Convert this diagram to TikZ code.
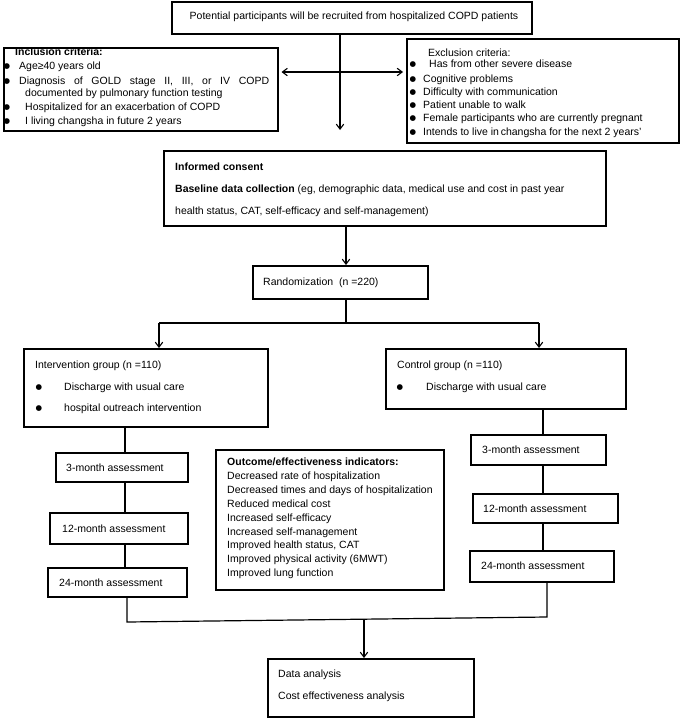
\documentclass[tikz,border=0pt]{standalone}
\usepackage{fontspec}
\setmainfont{Liberation Sans}
\newfontfamily\symf{DejaVu Sans}
\usetikzlibrary{arrows.meta}
\tikzset{
  box/.style={draw, line width=1.5pt, inner sep=0pt, anchor=north west},
  txt/.style={anchor=west, inner sep=0pt, font=\fontsize{10.5}{12}\selectfont, text height=7.5pt, text depth=2.1pt},
  btxt/.style={txt, font=\fontsize{10.5}{12}\selectfont\bfseries},
  ctxt/.style={txt, anchor=center},
  bul/.style={anchor=center, inner sep=0pt, font=\symf\fontsize{7.5}{8}\selectfont},
  conn/.style={line width=1.2pt},
  arr/.style={conn, -{Straight Barb[length=5pt,width=7.5pt,line width=1.1pt]}},
}
\newcommand{\bx}[5]{\node[box, minimum width={(#4-#2)*1pt}, minimum height={(#5-#3)*1pt}] (#1) at (#2,#3) {};}
\begin{document}
\begin{tikzpicture}[x=1pt,y=-1pt]
\useasboundingbox (0,0) rectangle (680,718);
% boxes
\bx{top}{171}{1}{531}{33}
\bx{incl}{3}{47}{277}{130}
\bx{excl}{406}{38}{678}{142}
\bx{inform}{163}{150}{605}{225}
\bx{rand}{252}{265}{427}{298}
\bx{interv}{23}{348}{267}{426}
\bx{ctrl}{385}{348}{625}{408}
\bx{Lthree}{55}{452}{187}{481}
\bx{Ltwelve}{49}{512}{187}{543}
\bx{Lfour}{47}{567}{186}{596}
\bx{Rthree}{470}{434}{605}{464}
\bx{Rtwelve}{472}{493}{617}{522}
\bx{Rfour}{469}{550}{613}{581}
\bx{outc}{215}{449}{443}{589}
\bx{data}{267}{658}{473}{716}
% top text
\node[ctxt] (ttop) at (354,17) {Potential participants will be recruited from hospitalized COPD patients};
% inclusion
\node[btxt] (ti0) at (15,53) {Inclusion criteria:};
\node[bul] (bi1) at (7,67) {●};
\node[bul] (bi2) at (7,82) {●};
\node[bul] (bi3) at (7,108) {●};
\node[bul] (bi4) at (7,122) {●};
\node[txt] (ti1) at (19,67) {Age≥40 years old};
\node[txt] (ti2) at (19,82) {\makebox[250pt][s]{Diagnosis of GOLD stage II, III, or IV COPD}};
\node[txt] (ti3) at (25,94) {documented by pulmonary function testing};
\node[txt] (ti4) at (25,108) {Hospitalized for an exacerbation of COPD};
\node[txt] (ti5) at (25,122) {I living changsha in future 2 years};
% exclusion
\node[txt] (te0) at (428,54) {Exclusion criteria:};
\foreach \yy [count=\i] in {65,80,93,106,119,133} {\node[bul] (be\i) at (413,\yy) {●};}
\node[txt] (te1) at (429,65) {Has from other severe disease};
\node[txt] (te2) at (423,80) {Cognitive problems};
\node[txt] (te3) at (423,93) {Difficulty with communication};
\node[txt] (te4) at (423,106) {Patient unable to walk};
\node[txt] (te5) at (423,119) {Female participants who are currently pregnant};
\node[txt] (te6) at (423,133) {Intends to live in\,changsha for the next 2 years’};
% informed consent
\node[btxt] (tc1) at (175,168) {Informed consent};
\node[txt] (tc2) at (175,190) {\textbf{Baseline data collection} (eg, demographic data, medical use and cost in past year};
\node[txt] (tc3) at (175,212) {health status, CAT, self-efficacy and self-management)};
% randomization
\node[txt] (tr) at (263,283) {Randomization\ \ (n =220)};
% intervention
\node[txt] (tg1) at (35,366) {Intervention group (n =110)};
\node[bul] (bg1) at (39,388) {●};
\node[bul] (bg2) at (39,409) {●};
\node[txt] (tg2) at (64,388) {Discharge with usual care};
\node[txt] (tg3) at (64,409) {hospital outreach intervention};
% control
\node[txt] (tk1) at (397,366) {Control group (n =110)};
\node[bul] (bk1) at (400,388) {●};
\node[txt] (tk2) at (426,388) {Discharge with usual care};
% assessments
\node[txt] (tl3) at (66,469) {3-month assessment};
\node[txt] (tl12) at (62,530) {12-month assessment};
\node[txt] (tl24) at (59,584) {24-month assessment};
\node[txt] (tr3) at (482,451) {3-month assessment};
\node[txt] (tr12) at (483,510) {12-month assessment};
\node[txt] (tr24) at (481,567) {24-month assessment};
% outcome
\node[btxt] (to0) at (227,463) {Outcome/effectiveness indicators:};
\node[txt] (to1) at (227,477) {Decreased rate of hospitalization};
\node[txt] (to2) at (227,491) {Decreased times and days of hospitalization};
\node[txt] (to3) at (227,505) {Reduced medical cost};
\node[txt] (to4) at (227,519) {Increased self-efficacy};
\node[txt] (to5) at (227,533) {Increased self-management};
\node[txt] (to6) at (227,546) {Improved health status, CAT};
\node[txt] (to7) at (227,560) {Improved physical activity (6MWT)};
\node[txt] (to8) at (227,574) {Improved lung function};
% data
\node[txt] (td1) at (278,675) {Data analysis};
\node[txt] (td2) at (278,697) {Cost effectiveness analysis};
% connectors
\coordinate (hub) at (340,72);
\coordinate (dn) at (340,130);
\draw[arr] (top.south -| hub) -- (dn);
\draw[arr, shorten >=3pt] (hub) -- (hub -| incl.east);
\draw[arr, shorten >=3pt] (hub) -- (hub -| excl.west);
\coordinate (ax) at (346,0);
\draw[arr] (inform.south -| ax) -- (rand.north -| ax);
\coordinate (br) at (346,323);
\coordinate (bl) at (159,323);
\coordinate (brr) at (539,323);
\draw[conn] (rand.south -| br) -- (br);
\draw[arr] (bl) -- (bl |- interv.north);
\draw[conn] (bl) -- (brr);
\draw[arr] (brr) -- (brr |- ctrl.north);
\coordinate (lx) at (125,0);
\draw[conn] (interv.south -| lx) -- (Lthree.north -| lx);
\draw[conn] (Lthree.south -| lx) -- (Ltwelve.north -| lx);
\draw[conn] (Ltwelve.south -| lx) -- (Lfour.north -| lx);
\coordinate (rx) at (543,0);
\draw[conn] (ctrl.south -| rx) -- (Rthree.north -| rx);
\draw[conn] (Rthree.south -| rx) -- (Rtwelve.north -| rx);
\draw[conn] (Rtwelve.south -| rx) -- (Rfour.north -| rx);
\coordinate (jl) at (127,622);
\coordinate (jr) at (547,617);
\coordinate (jm) at (364,619.5);
\draw[conn] (Lfour.south -| jl) -- (jl) -- (jr) -- (Rfour.south -| jr);
\draw[arr] (jm) -- (jm |- data.north);
\end{tikzpicture}
\end{document}
